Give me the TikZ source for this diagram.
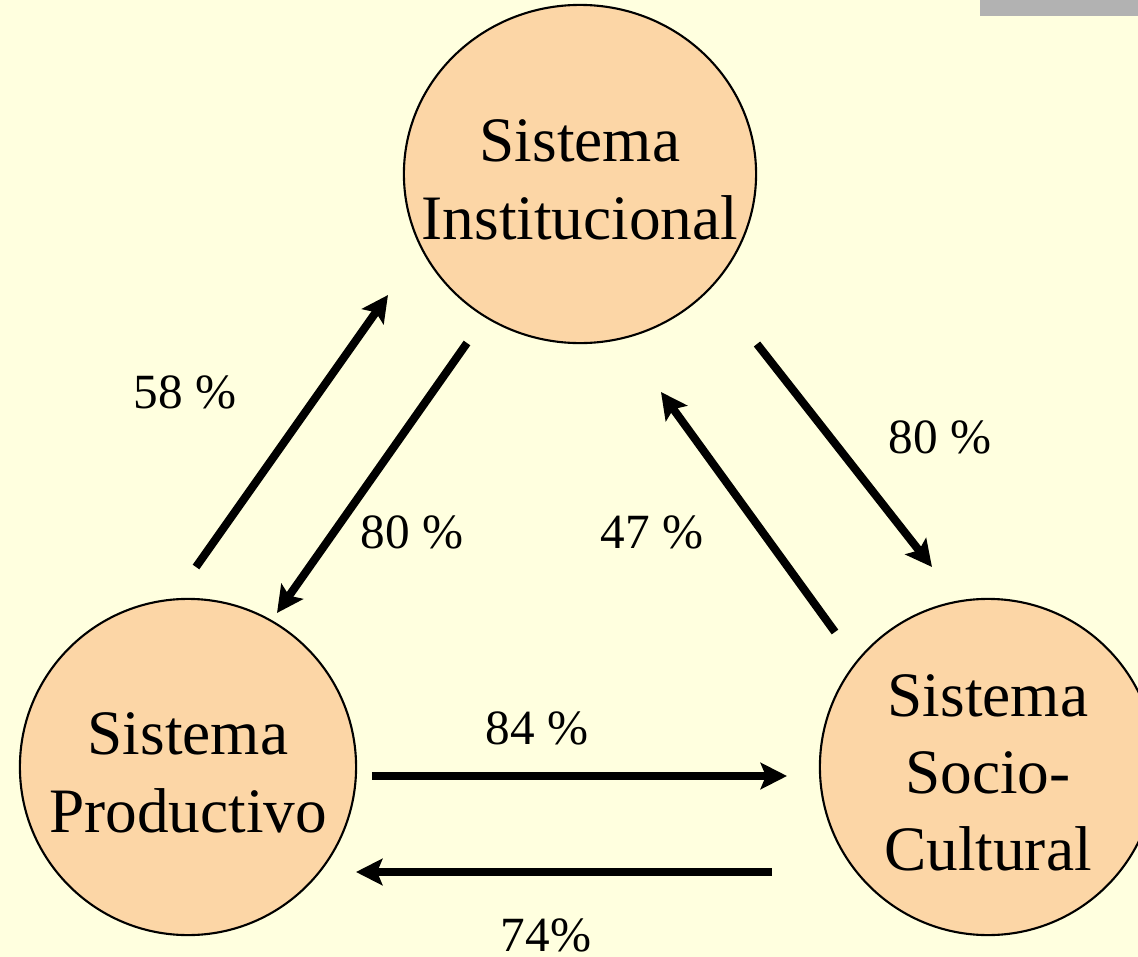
\documentclass[tikz,border=0pt]{standalone}
\usepackage{fontspec}
\setmainfont{Liberation Serif}
\usetikzlibrary{arrows.meta,shapes.geometric}

\definecolor{bgyellow}{RGB}{255,255,223}
\definecolor{circfill}{RGB}{252,214,166}
\definecolor{greybar}{RGB}{178,178,178}

\begin{document}
\begin{tikzpicture}[
    x=0.01cm, y=-0.01cm,
    sistema/.style={
      ellipse, draw, line width=0.6pt, fill=circfill,
      inner sep=0pt, minimum width=3.36cm, minimum height=3.36cm
    },
    sistxt/.style={
      align=center, inner sep=0pt, yshift=-1.7pt,
      font=\fontsize{18}{22}\selectfont
    },
    flow/.style={
      line width=2.3pt,
      -{Stealth[length=7.5pt,width=7.5pt,inset=1.5pt]}
    },
    pct/.style={
      anchor=base, inner sep=0pt,
      font=\fontsize{14}{16}\selectfont
    }
    ]
  \useasboundingbox (0,0) rectangle (1138,957);
  \clip (0,0) rectangle (1138,957);
  \fill[bgyellow] (0,0) rectangle (1138,957);
  \fill[greybar] (980,0) rectangle (1138,16);

  % the three systems
  \node[sistema, minimum width=3.52cm, minimum height=3.38cm] (inst) at (580,174) {};
  \node[sistema] (prod) at (188,767) {};
  \node[sistema] (soc) at (988,767) {};
  \node[sistxt] (inst-txt) at (inst) {Sistema\\Institucional};
  \node[sistxt] (prod-txt) at (prod) {Sistema\\Productivo};
  \node[sistxt] (soc-txt) at (soc) {Sistema\\Socio-\\Cultural};

  % arrow ends
  \coordinate (pi-a) at (196,567);
  \coordinate (pi-b) at (388,295);
  \coordinate (ip-a) at (467,343);
  \coordinate (ip-b) at (277,613);
  \coordinate (is-a) at (757,344);
  \coordinate (is-b) at (932,567);
  \coordinate (si-a) at (835,632);
  \coordinate (si-b) at (661,392);
  \coordinate (ps-a) at (372,776);
  \coordinate (ps-b) at (787,776);
  \coordinate (sp-a) at (772,872);
  \coordinate (sp-b) at (356,872);

  \draw[flow] (pi-a) -- (pi-b);
  \draw[flow] (ip-a) -- (ip-b);
  \draw[flow] (is-a) -- (is-b);
  \draw[flow] (si-a) -- (si-b);
  \draw[flow] (ps-a) -- (ps-b);
  \draw[flow] (sp-a) -- (sp-b);

  % percentages
  \node[pct] (l-pi) at (185,408) {58 \%};
  \node[pct] (l-ip) at (412,548) {80 \%};
  \node[pct] (l-si) at (652,548) {47 \%};
  \node[pct] (l-is) at (940,453) {80 \%};
  \node[pct] (l-ps) at (537,744) {84 \%};
  \node[pct] (l-sp) at (546,951) {74\%};
\end{tikzpicture}
\end{document}
